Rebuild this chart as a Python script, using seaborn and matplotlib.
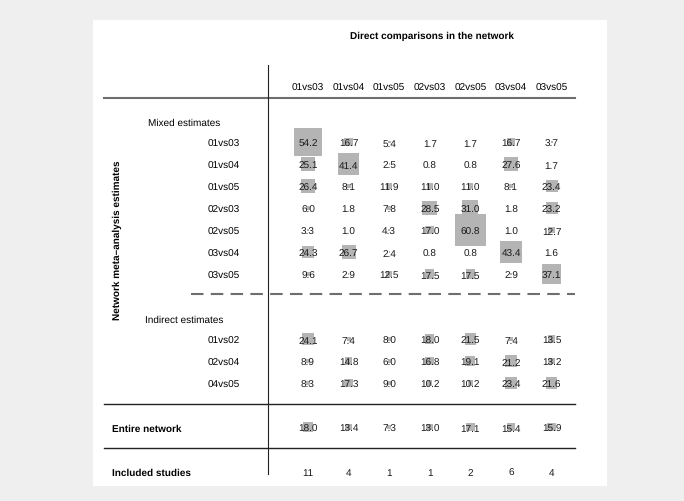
import pandas as pd
import numpy as np
import seaborn as sns
import matplotlib.pyplot as plt

# direct comparisons (columns) and estimates (rows)
direct = ['01vs03', '01vs04', '01vs05', '02vs03', '02vs05', '03vs04', '03vs05']
mixed_rows = ['01vs03', '01vs04', '01vs05', '02vs03', '02vs05', '03vs04', '03vs05']
indirect_rows = ['01vs02', '02vs04', '04vs05']

mixed_vals = [
    [54.2, 16.7, 5.4, 1.7, 1.7, 16.7, 3.7],
    [25.1, 41.4, 2.5, 0.8, 0.8, 27.6, 1.7],
    [26.4, 8.1, 11.9, 11.0, 11.0, 8.1, 23.4],
    [6.0, 1.8, 7.8, 28.5, 31.0, 1.8, 23.2],
    [3.3, 1.0, 4.3, 17.0, 60.8, 1.0, 12.7],
    [24.3, 26.7, 2.4, 0.8, 0.8, 43.4, 1.6],
    [9.6, 2.9, 12.5, 17.5, 17.5, 2.9, 37.1],
]
indirect_vals = [
    [24.1, 7.4, 8.0, 18.0, 21.5, 7.4, 13.5],
    [8.9, 14.8, 6.0, 16.8, 19.1, 21.2, 13.2],
    [8.3, 17.3, 9.0, 10.2, 10.2, 23.4, 21.6],
]
entire_vals = [18.0, 13.4, 7.3, 13.0, 17.1, 15.4, 15.9]
studies = [11, 4, 1, 1, 2, 6, 4]

plt.rcParams['font.family'] = ['Liberation Sans', 'DejaVu Sans']
plt.rcParams['text.hinting'] = 'no_hinting'
plt.rcParams['text.hinting_factor'] = 1

# layout in pixel units of the white panel
col_x = 308 + 40.6 * np.arange(len(direct))
mixed_y = 143 + 22 * np.arange(len(mixed_rows))
indirect_y = 340 + 22 * np.arange(len(indirect_rows))
entire_y = 428
studies_y = 472

recs = []
for r, yy in zip(mixed_vals + indirect_vals + [entire_vals],
                 list(mixed_y) + list(indirect_y) + [entire_y]):
    for v, xx in zip(r, col_x):
        recs.append({'x': xx, 'y': yy, 'value': v, 'area': v ** 2})
df = pd.DataFrame(recs)

fig = plt.figure(figsize=(6.84, 5.02), dpi=100, facecolor='#efefef')
ax = fig.add_axes([93 / 684, (502 - 487) / 502, (607 - 93) / 684, (487 - 21) / 502])
ax.set_facecolor('white')
ax.set_xlim(93, 607)
ax.set_ylim(487, 21)
ax.set_xticks([])
ax.set_yticks([])
for s in ax.spines.values():
    s.set_visible(False)

# boxes: side proportional to the contribution
side_pt = 0.52 * 0.72  # points per percent
amax = df['area'].max()
sns.scatterplot(data=df, x='x', y='y', size='area', sizes=(0, (side_pt ** 2) * amax),
                size_norm=(0, amax), marker='s', color='#b4b4b4', linewidth=0,
                legend=False, ax=ax, zorder=1)
ax.set_xlabel('')
ax.set_ylabel('')

fs = 7.4
va = 'center_baseline'
for _, row in df.iterrows():
    ax.text(row['x'], row['y'], f"{row['value']:.1f}", ha='center', va=va,
            fontsize=fs, color='#1a1a1a', zorder=3)
for n, xx in zip(studies, col_x):
    ax.text(xx, studies_y, str(n), ha='center', va=va, fontsize=fs, color='#1a1a1a')

# headers
ax.text(432, 35, 'Direct comparisons in the network', ha='center', va=va,
        fontsize=fs, fontweight='bold')
for lab, xx in zip(direct, col_x):
    ax.text(xx, 87, lab, ha='center', va=va, fontsize=fs)
ax.text(117, 240, 'Network meta–analysis estimates', rotation=90, ha='center',
        va='center', fontsize=fs, fontweight='bold')

ax.text(148, 122, 'Mixed estimates', ha='left', va=va, fontsize=fs)
for lab, yy in zip(mixed_rows, mixed_y):
    ax.text(240, yy, lab, ha='right', va=va, fontsize=fs)
ax.text(145, 319, 'Indirect estimates', ha='left', va=va, fontsize=fs)
for lab, yy in zip(indirect_rows, indirect_y):
    ax.text(240, yy, lab, ha='right', va=va, fontsize=fs)
ax.text(112, entire_y, 'Entire network', ha='left', va=va, fontsize=fs,
        fontweight='bold')
ax.text(112, studies_y, 'Included studies', ha='left', va=va, fontsize=fs,
        fontweight='bold')

# rules
ax.plot([104, 575], [99, 99], color='#6e6e6e', lw=1.5)
ax.plot([191, 575], [295, 295], color='#6e6e6e', lw=1.5, dashes=(6, 3.5))
ax.plot([104, 575], [405, 405], color='#222222', lw=1.0)
ax.plot([104, 575], [449, 449], color='#222222', lw=1.0)
ax.plot([268, 268], [66, 475], color='#222222', lw=0.8)

plt.savefig('out.png', dpi=100, facecolor=fig.get_facecolor())
